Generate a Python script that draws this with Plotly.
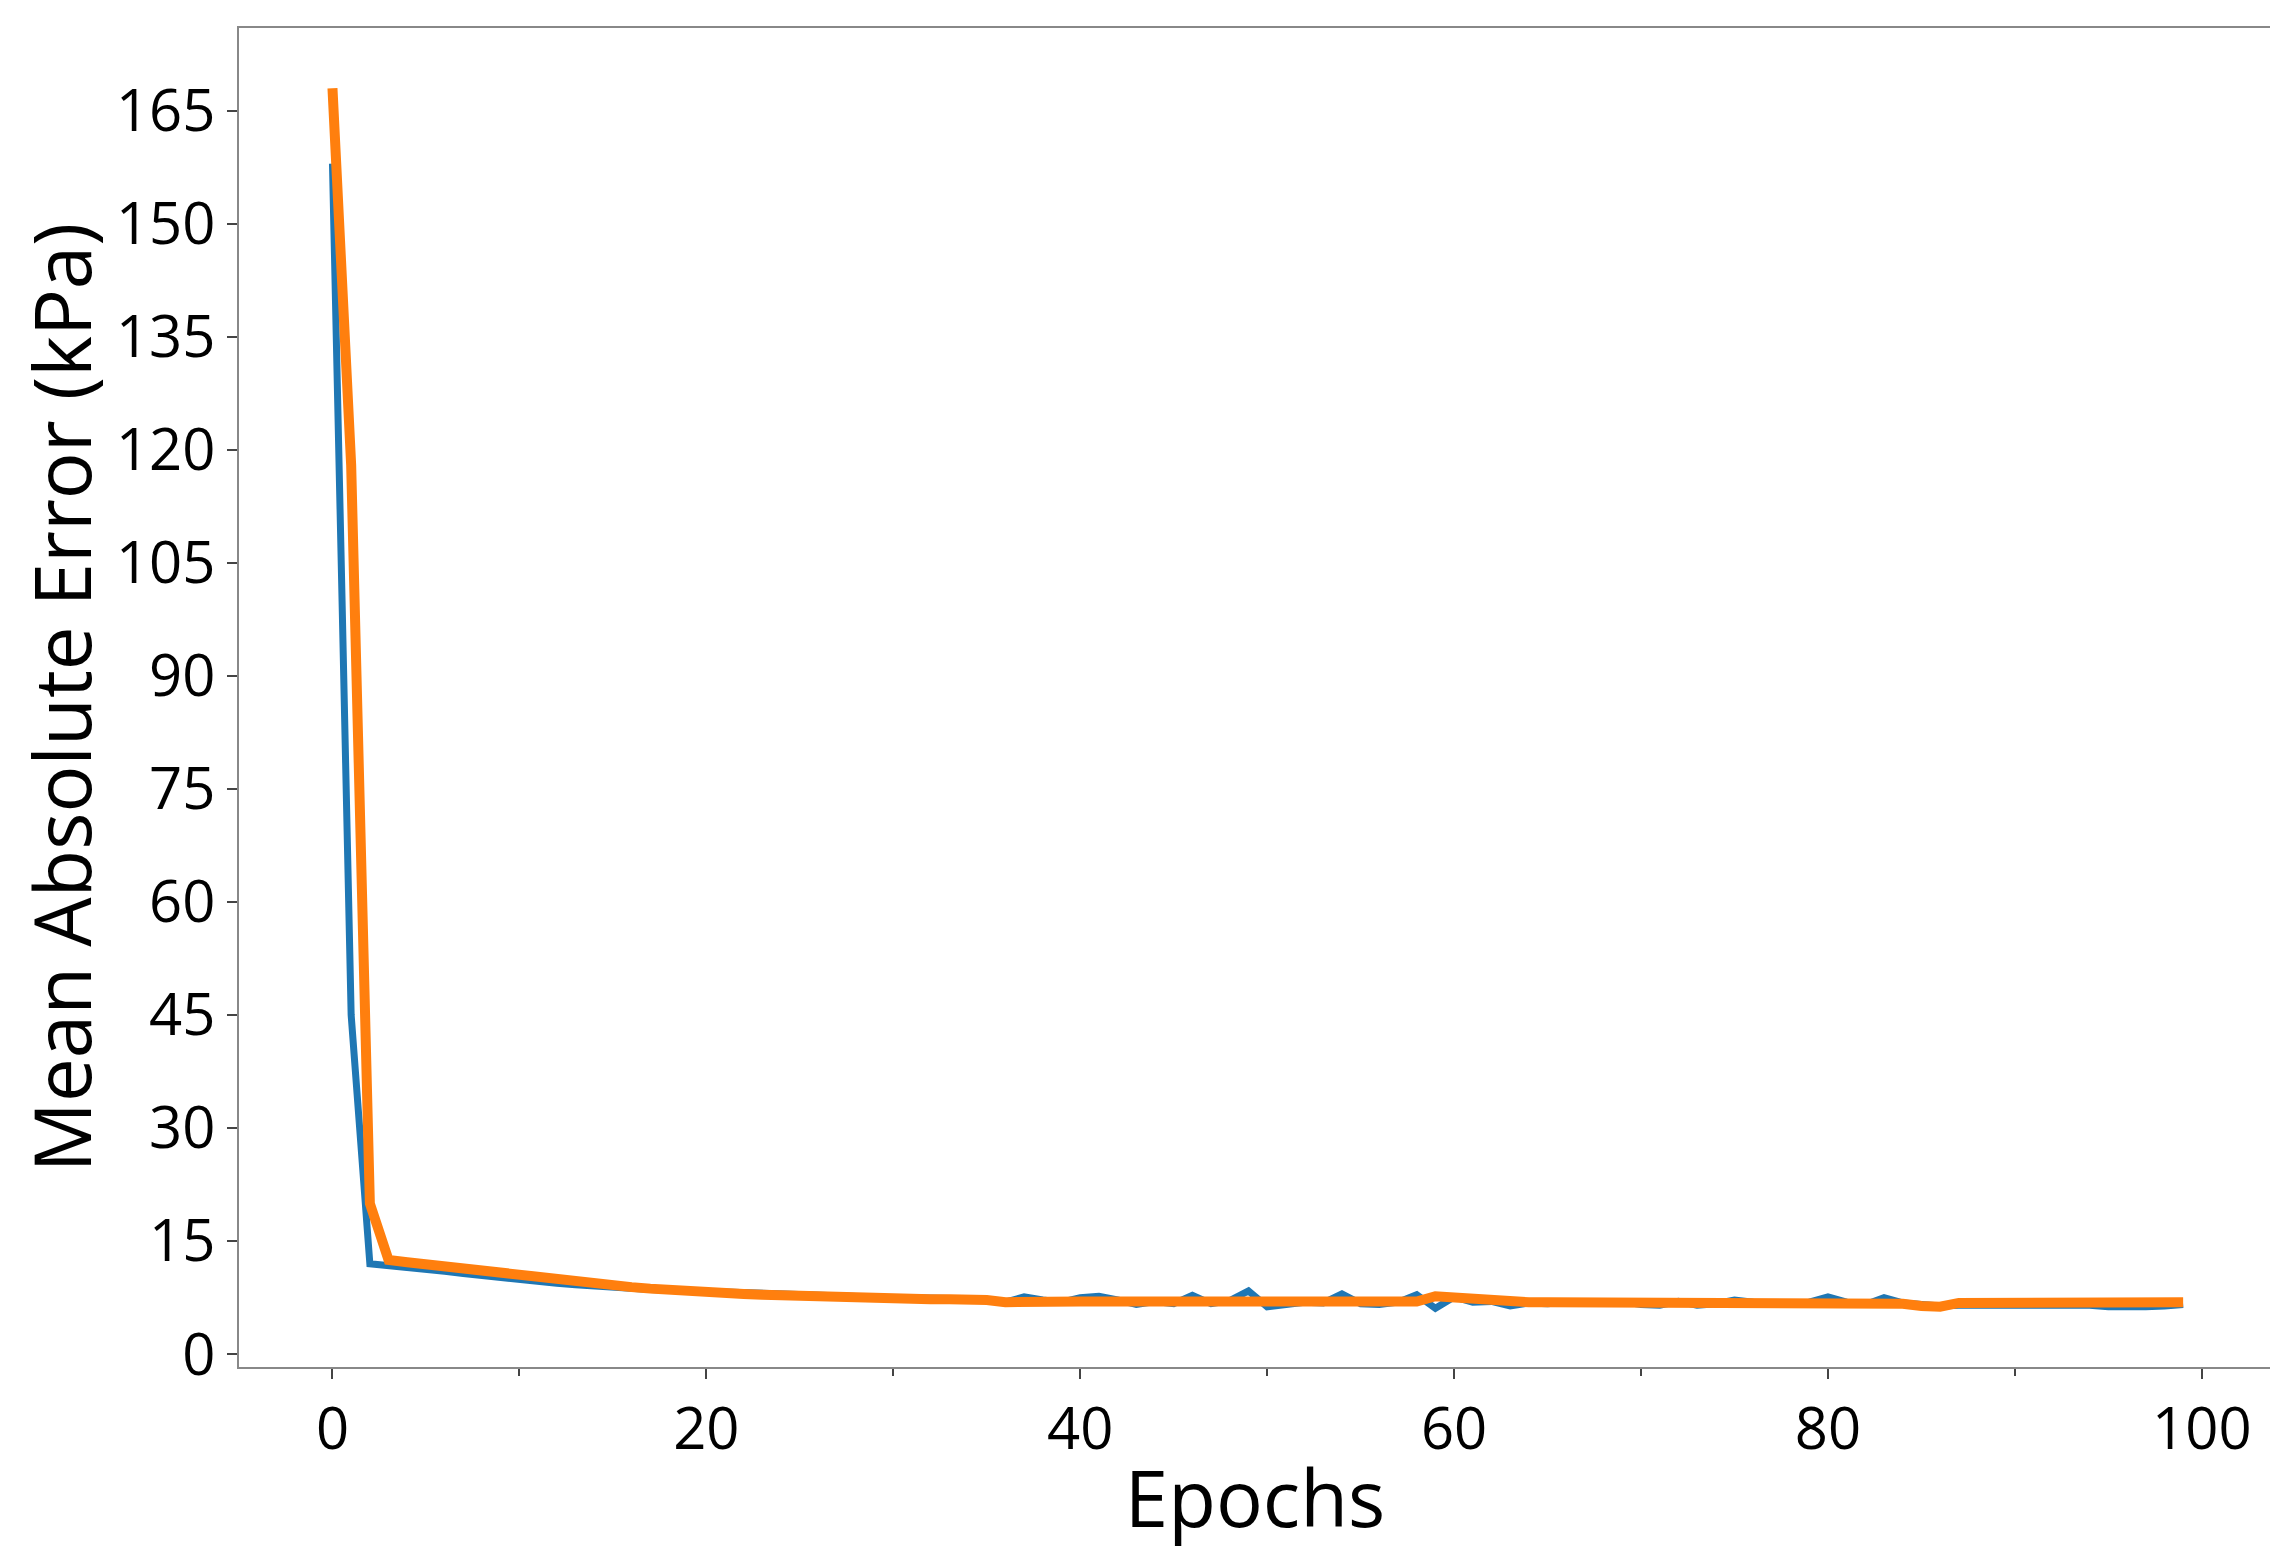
import plotly.graph_objects as go

epochs = list(range(100))
train_mae = [158, 45, 12, 11.8, 11.5, 11.2, 11.0, 10.7, 10.4, 10.2,
             10.0, 9.7, 9.4, 9.2, 9.0, 8.9, 8.8, 8.6, 8.5, 8.4,
             8.3, 8.2, 8.1, 8.0, 7.9, 7.9, 7.8, 7.7, 7.6, 7.6,
             7.5, 7.5, 7.4, 7.4, 7.4, 7.3, 6.9, 7.6, 7.2, 6.9,
             7.5, 7.7, 7.2, 6.6, 7.0, 6.7, 7.8, 6.7, 7.1, 8.4,
             6.3, 6.6, 6.9, 6.8, 8.0, 6.7, 6.6, 6.9, 7.9, 6.1,
             7.6, 6.9, 7.0, 6.4, 6.8, 6.7, 6.9, 6.8, 6.8, 7.0,
             6.6, 6.5, 7.0, 6.5, 6.7, 7.2, 6.9, 6.8, 6.6, 6.9,
             7.6, 6.9, 6.6, 7.5, 6.8, 6.6, 6.4, 6.5, 6.5, 6.4,
             6.5, 6.6, 6.5, 6.6, 6.5, 6.3, 6.2, 6.3, 6.4, 6.6]
val_mae = [168, 118, 20, 12.5, 12.2, 11.9, 11.6, 11.3, 11.0, 10.7,
           10.4, 10.1, 9.8, 9.5, 9.3, 9.1, 8.9, 8.7, 8.5, 8.3,
           8.2, 8.1, 8.0, 7.9, 7.8, 7.7, 7.6, 7.5, 7.5, 7.4,
           7.4, 7.3, 7.3, 7.3, 7.3, 7.2, 6.9, 7.0, 7.0, 7.0,
           7.0, 7.0, 7.0, 7.0, 7.0, 7.0, 7.1, 7.0, 7.0, 7.1,
           6.9, 6.9, 6.9, 6.9, 7.0, 6.9, 6.9, 6.9, 7.0, 7.7,
           7.5, 7.2, 7.0, 6.9, 6.9, 6.9, 6.9, 6.9, 6.9, 6.9,
           6.9, 6.9, 6.9, 6.9, 6.9, 6.9, 6.9, 6.9, 6.9, 6.9,
           6.9, 6.9, 6.9, 6.9, 6.7, 6.4, 6.3, 6.8, 6.8, 6.8,
           6.9, 6.9, 6.9, 6.9, 6.9, 6.9, 6.9, 6.9, 6.9, 6.9]
x_ticks = [0, 20, 40, 60, 80, 100]
y_ticks = list(range(0, 166, 15))

fig = go.Figure()
fig.add_trace(go.Scatter(x=epochs, y=train_mae, mode="lines",
                         line=dict(color="#1f77b4", width=7), showlegend=False))
fig.add_trace(go.Scatter(x=epochs, y=val_mae, mode="lines",
                         line=dict(color="#ff7f0e", width=10), showlegend=False))

font = "Open Sans"
fig.update_layout(
    width=2278, height=1554,
    paper_bgcolor="white", plot_bgcolor="white",
    margin=dict(l=231, r=15, t=20, b=195),
    font=dict(family=font, color="black"),
)
fig.update_xaxes(range=[-5, 103.7], tickvals=x_ticks, ticks="outside", ticklen=10,
                 tickwidth=2, tickcolor="#444", tickfont=dict(size=58),
                 minor=dict(tickvals=[10, 30, 50, 70, 90], ticks="outside", ticklen=7,
                            tickcolor="#444", tickwidth=2),
                 showgrid=False, zeroline=False, showline=True, linecolor="#888",
                 linewidth=2, mirror=True,
                 title=dict(text="Epochs", font=dict(size=78), standoff=8))
fig.update_yaxes(range=[-1.7, 176], tickvals=y_ticks, ticks="outside", ticklen=10,
                 tickwidth=2, tickcolor="#444", tickfont=dict(size=58),
                 showgrid=False, zeroline=False, showline=True, linecolor="#888",
                 linewidth=2, mirror=True,
                 title=dict(text="Mean Absolute Error (kPa)", font=dict(size=78), standoff=8))
fig.write_html("out.html")
